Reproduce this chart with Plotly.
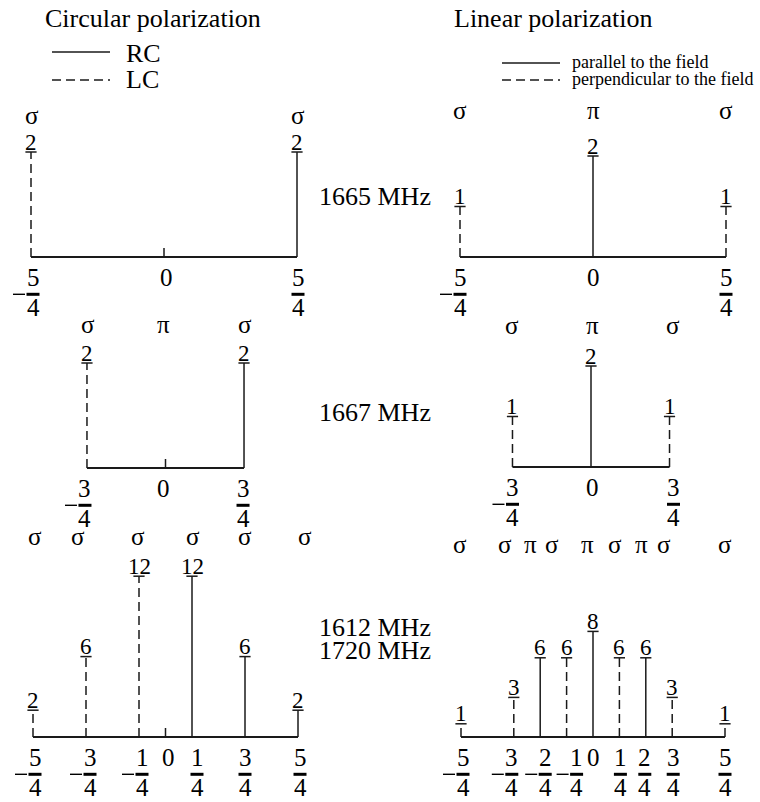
import plotly.graph_objects as go

W, H = 760, 802
FONT = "Liberation Serif"
INK = "#1a1a1a"
DASH = "9px,5px"

# ---------------- data ----------------
# 1665 MHz, circular polarization
c1665_offsets = ["-5/4", "5/4"]
c1665_strength = [2, 2]
c1665_kind = ["LC", "RC"]
c1665_trans_at = ["-5/4", "5/4"]
c1665_trans = ["σ", "σ"]
c1665_ticks = ["-5/4", "0", "5/4"]

# 1665 MHz, linear polarization
l1665_offsets = ["-5/4", "0", "5/4"]
l1665_strength = [1, 2, 1]
l1665_kind = ["perp", "par", "perp"]
l1665_trans_at = ["-5/4", "0", "5/4"]
l1665_trans = ["σ", "π", "σ"]
l1665_ticks = ["-5/4", "0", "5/4"]

# 1667 MHz, circular polarization
c1667_offsets = ["-3/4", "3/4"]
c1667_strength = [2, 2]
c1667_kind = ["LC", "RC"]
c1667_trans_at = ["-3/4", "0", "3/4"]
c1667_trans = ["σ", "π", "σ"]
c1667_ticks = ["-3/4", "0", "3/4"]

# 1667 MHz, linear polarization
l1667_offsets = ["-3/4", "0", "3/4"]
l1667_strength = [1, 2, 1]
l1667_kind = ["perp", "par", "perp"]
l1667_trans_at = ["-3/4", "0", "3/4"]
l1667_trans = ["σ", "π", "σ"]
l1667_ticks = ["-3/4", "0", "3/4"]

# 1612 / 1720 MHz, circular polarization
c1612_offsets = ["-5/4", "-3/4", "-1/4", "1/4", "3/4", "5/4"]
c1612_strength = [2, 6, 12, 12, 6, 2]
c1612_kind = ["LC", "LC", "LC", "RC", "RC", "RC"]
c1612_trans_at = ["-5/4", "-3/4", "-1/4", "1/4", "3/4", "5/4"]
c1612_trans = ["σ", "σ", "σ", "σ", "σ", "σ"]
c1612_ticks = ["-5/4", "-3/4", "-1/4", "0", "1/4", "3/4", "5/4"]

# 1612 / 1720 MHz, linear polarization
l1612_offsets = ["-5/4", "-3/4", "-2/4", "-1/4", "0", "1/4", "2/4", "3/4", "5/4"]
l1612_strength = [1, 3, 6, 6, 8, 6, 6, 3, 1]
l1612_kind = ["perp", "perp", "par", "perp", "par", "perp", "par", "perp", "perp"]
l1612_trans_at = l1612_offsets
l1612_trans = ["σ", "σ", "π", "σ", "π", "σ", "π", "σ", "σ"]
l1612_ticks = ["-5/4", "-3/4", "-2/4", "-1/4", "0", "1/4", "2/4", "3/4", "5/4"]

freq_labels = ["1665 MHz", "1667 MHz", "1612 MHz", "1720 MHz"]
titles = ["Circular polarization", "Linear polarization"]
legend_circ = ["RC", "LC"]
legend_lin = ["parallel to the field", "perpendicular to the field"]

# ---------------- layout geometry (pixels) ----------------
panels = [
    dict(off=c1665_offsets, val=c1665_strength, kind=c1665_kind, tat=c1665_trans_at,
         tr=c1665_trans, ticks=c1665_ticks, zero=True,
         box=(0, 380, 90, 320), cx=164, sx=106.4, py=257, sy=52.5, row=115.5,
         tshift=[2, 2, 1], trshift=[1, 1]),
    dict(off=l1665_offsets, val=l1665_strength, kind=l1665_kind, tat=l1665_trans_at,
         tr=l1665_trans, ticks=l1665_ticks, zero=False,
         box=(380, 760, 90, 320), cx=593, sx=106.4, py=257, sy=50.5, row=110.5,
         tshift=[0, 0, 0], trshift=[0, 0, 0]),
    dict(off=c1667_offsets, val=c1667_strength, kind=c1667_kind, tat=c1667_trans_at,
         tr=c1667_trans, ticks=c1667_ticks, zero=True,
         box=(0, 380, 320, 530), cx=165.5, sx=104.7, py=468, sy=52.5, row=324.5,
         tshift=[-2, -2, -1], trshift=[1, -2, 1]),
    dict(off=l1667_offsets, val=l1667_strength, kind=l1667_kind, tat=l1667_trans_at,
         tr=l1667_trans, ticks=l1667_ticks, zero=False,
         box=(380, 760, 320, 530), cx=591, sx=104.7, py=467, sy=50.5, row=325,
         tshift=[0, 1, 4], trshift=[0, 1, 3]),
    dict(off=c1612_offsets, val=c1612_strength, kind=c1612_kind, tat=c1612_trans_at,
         tr=c1612_trans, ticks=c1612_ticks, zero=True,
         box=(0, 380, 530, 802), cx=165.5, sx=106, py=737, sy=13.4, row=536.5,
         tshift=[2, 4, 3, 3, 5, 0, 2], trshift=[2, -8, -1, 1, 0, 7]),
    dict(off=l1612_offsets, val=l1612_strength, kind=l1612_kind, tat=l1612_trans_at,
         tr=l1612_trans, ticks=l1612_ticks, zero=False,
         box=(380, 760, 530, 802), cx=593, sx=105.6, py=737, sy=13.2, row=544.5,
         tshift=[2, -2, 5, 10, 0, 1, -1, 1, 0], trshift=[-1, -9, -10, -15, -6, -4, -4, -8, 0]),
]


def frac_value(s):
    if "/" in s:
        n, d = s.split("/")
        return float(n) / float(d)
    return float(s)


def frac_parts(s):
    neg = s.startswith("-")
    s2 = s.lstrip("-")
    if "/" in s2:
        n, d = s2.split("/")
        return neg, n, d
    return neg, s2, None


def ann(**kw):
    base = dict(showarrow=False, xanchor="center", yanchor="middle")
    base.update(kw)
    return base


fig = go.Figure()
annotations = []
shapes = []
layout_axes = {}

for i, p in enumerate(panels, start=1):
    xa = "x" if i == 1 else f"x{i}"
    ya = "y" if i == 1 else f"y{i}"
    L, R, T, B = p["box"]
    xr = [(L - p["cx"]) / p["sx"], (R - p["cx"]) / p["sx"]]
    yr = [(p["py"] - B) / p["sy"], (p["py"] - T) / p["sy"]]
    axkey = "xaxis" if i == 1 else f"xaxis{i}"
    aykey = "yaxis" if i == 1 else f"yaxis{i}"
    layout_axes[axkey] = dict(domain=[L / W, R / W], range=xr, visible=False,
                              anchor=ya, fixedrange=True)
    layout_axes[aykey] = dict(domain=[1 - B / H, 1 - T / H], range=yr, visible=False,
                              anchor=xa, fixedrange=True)

    xs = [frac_value(o) for o in p["off"]]
    # baseline
    fig.add_trace(go.Scatter(x=[min(xs), max(xs)], y=[0, 0], mode="lines",
                             line=dict(color=INK, width=2), xaxis=xa, yaxis=ya,
                             hoverinfo="skip", showlegend=False))
    # stems by style
    for style, dash in (("solid", "solid"), ("dashed", DASH)):
        sx_, sy_ = [], []
        for x, v, k in zip(xs, p["val"], p["kind"]):
            is_dashed = k in ("LC", "perp")
            if (style == "dashed") == is_dashed:
                sx_ += [x, x, None]
                sy_ += [0, v, None]
        if sx_:
            fig.add_trace(go.Scatter(x=sx_, y=sy_, mode="lines",
                                     line=dict(color=INK, width=1.5, dash=dash),
                                     xaxis=xa, yaxis=ya, hoverinfo="skip",
                                     showlegend=False))
    # caps
    fig.add_trace(go.Scatter(x=xs, y=p["val"], mode="markers",
                             marker=dict(symbol="line-ew", size=8,
                                         line=dict(color=INK, width=1.5)),
                             xaxis=xa, yaxis=ya, hoverinfo="skip", showlegend=False))
    # zero tick
    if p["zero"]:
        shapes.append(dict(type="line", xref=xa, yref=ya, x0=0, x1=0,
                           ysizemode="pixel", yanchor=0, y0=0, y1=9,
                           line=dict(color=INK, width=1.5)))
    # value labels
    for x, v in zip(xs, p["val"]):
        annotations.append(ann(x=x, y=v, xref=xa, yref=ya, text=str(v), yshift=10,
                               font=dict(family=FONT, size=23, color="black")))
    # transition labels
    for t, lab, sh in zip(p["tat"], p["tr"], p["trshift"]):
        annotations.append(ann(x=frac_value(t), y=0, xref=xa, yref=ya, text=lab,
                               xshift=sh, yshift=p["py"] - p["row"],
                               font=dict(family=FONT, size=25, color="black")))
    # tick labels (fractions)
    for t, sh in zip(p["ticks"], p["tshift"]):
        xv = frac_value(t)
        neg, n, d = frac_parts(t)
        annotations.append(ann(x=xv, y=0, xref=xa, yref=ya, text=n,
                               xshift=sh, yshift=-20,
                               font=dict(family=FONT, size=25, color="black")))
        if d is not None:
            annotations.append(ann(x=xv, y=0, xref=xa, yref=ya, text=d,
                                   xshift=sh, yshift=-50,
                                   font=dict(family=FONT, size=25, color="black")))
            shapes.append(dict(type="rect", xref=xa, yref=ya, xsizemode="pixel",
                               ysizemode="pixel", xanchor=xv, yanchor=0,
                               x0=sh - 6.5, x1=sh + 6.5, y0=-35.8, y1=-38.8,
                               fillcolor="black", line=dict(width=0)))
            if neg:
                shapes.append(dict(type="rect", xref=xa, yref=ya, xsizemode="pixel",
                                   ysizemode="pixel", xanchor=xv, yanchor=0,
                                   x0=sh - 20, x1=sh - 8, y0=-36.6, y1=-38.0,
                                   fillcolor="black", line=dict(width=0)))


def px(x):
    return x / W


def py_(y):
    return 1 - y / H


# titles
annotations.append(ann(x=px(153), y=py_(18), xref="paper", yref="paper", text=titles[0],
                       font=dict(family=FONT, size=26, color="black")))
annotations.append(ann(x=px(553), y=py_(18), xref="paper", yref="paper", text=titles[1],
                       font=dict(family=FONT, size=26, color="black")))

# frequency labels
for lab, yy in zip(freq_labels, [197, 413, 627, 650]):
    annotations.append(ann(x=px(375), y=py_(yy), xref="paper", yref="paper", text=lab,
                           font=dict(family=FONT, size=26, color="black")))

# legends
for lab, yy, dash in zip(legend_circ, [52, 80], ["solid", DASH]):
    shapes.append(dict(type="line", xref="paper", yref="paper", x0=px(52), x1=px(110),
                       y0=py_(yy), y1=py_(yy), line=dict(color=INK, width=1.5, dash=dash)))
for lab, yy in zip(legend_circ, [53, 79]):
    annotations.append(ann(x=px(124), y=py_(yy), xref="paper", yref="paper", text=lab,
                           xanchor="left",
                           font=dict(family=FONT, size=26, color="black")))
for lab, yy, dash in zip(legend_lin, [63, 80], ["solid", DASH]):
    shapes.append(dict(type="line", xref="paper", yref="paper", x0=px(502), x1=px(560),
                       y0=py_(yy), y1=py_(yy), line=dict(color=INK, width=1.5, dash=dash)))
for lab, yy in zip(legend_lin, [62, 79]):
    annotations.append(ann(x=px(570), y=py_(yy), xref="paper", yref="paper", text=lab,
                           xanchor="left",
                           font=dict(family=FONT, size=18, color="black")))

fig.update_layout(width=W, height=H, margin=dict(l=0, r=0, t=0, b=0),
                  paper_bgcolor="white", plot_bgcolor="rgba(0,0,0,0)",
                  showlegend=False, annotations=annotations, shapes=shapes,
                  **layout_axes)

fig.write_html("out.html", config={"displayModeBar": False})
